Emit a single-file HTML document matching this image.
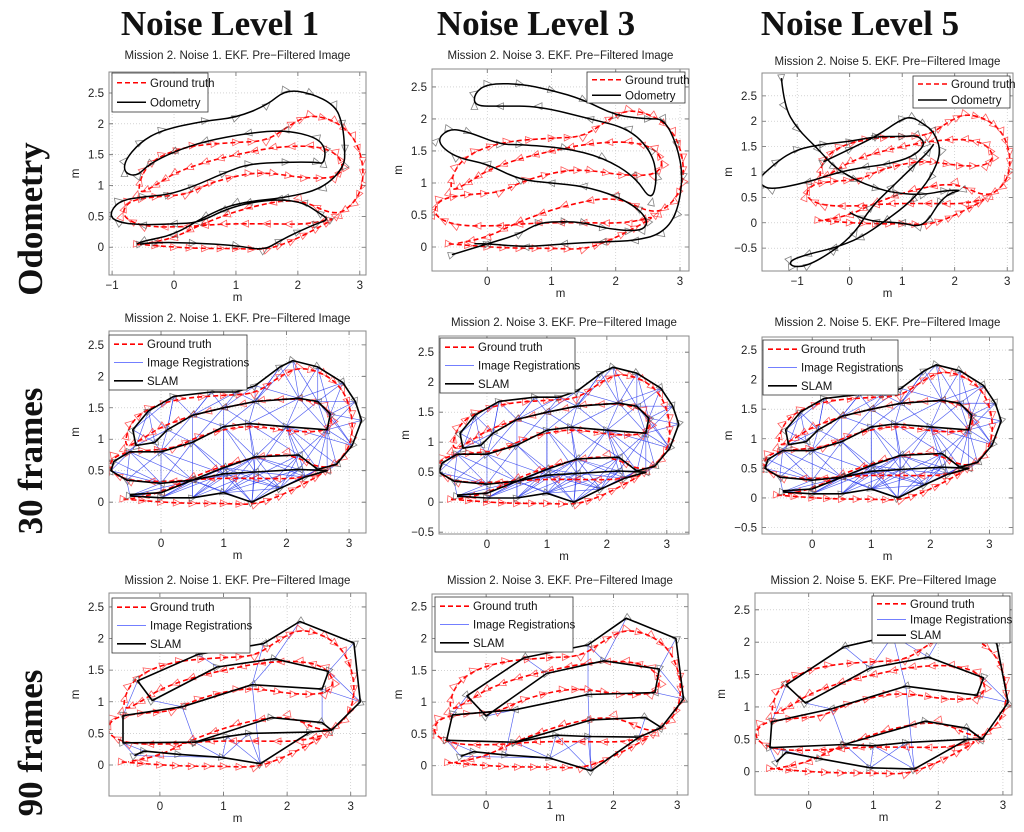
<!DOCTYPE html>
<html><head><meta charset="utf-8"><style>
html,body{margin:0;padding:0;background:#fff;}
svg{display:block;font-family:"Liberation Sans",sans-serif;}
.hdr{font-family:"Liberation Serif",serif;font-weight:bold;font-size:35px;fill:#111;}
</style></head><body>
<svg id="fig" width="1024" height="832" viewBox="0 0 1024 832" xmlns="http://www.w3.org/2000/svg">
<text class="hdr" x="220" y="35" text-anchor="middle">Noise Level 1</text>
<text class="hdr" x="536" y="35" text-anchor="middle">Noise Level 3</text>
<text class="hdr" x="860" y="35" text-anchor="middle">Noise Level 5</text>
<text class="hdr" transform="translate(42,219) rotate(-90)" text-anchor="middle">Odometry</text>
<text class="hdr" transform="translate(42,461) rotate(-90)" text-anchor="middle">30 frames</text>
<text class="hdr" transform="translate(42,743) rotate(-90)" text-anchor="middle">90 frames</text>
</svg>
<script>
// ---------- data ----------
const GT = [[-0.6,0.05],[0,0],[0.5,-0.02],[1,-0.02],[1.5,-0.04],[1.9,0.1],[2.3,0.3],[2.65,0.5],[2.2,0.37],[1.5,0.38],[0.8,0.38],[0.2,0.33],[-0.5,0.33],[-0.85,0.5],[-0.75,0.75],[-0.3,0.82],[0.2,0.85],[0.6,1.05],[1.2,1.2],[1.6,1.2],[2.1,1.12],[2.6,1.12],[2.75,1.3],[2.6,1.55],[2.2,1.65],[1.6,1.62],[1.0,1.5],[0.5,1.38],[0,1.2],[-0.3,1.0],[-0.6,0.85],[-0.5,1.25],[-0.2,1.5],[0.3,1.65],[1,1.7],[1.5,1.72],[1.9,2.0],[2.2,2.15],[2.6,2.05],[2.9,1.8],[3.05,1.4],[3.05,1.0],[2.9,0.7],[2.6,0.5],[2.0,0.8],[1.2,0.65],[0.5,0.4],[0,0.15],[-0.5,0.05]];

const ODO1 = [[[-0.55,0.05],[-0.3,0.08],[0.3,0.07],[1.0,0.03],[1.45,-0.05],[1.7,0.1],[2.0,0.25],[2.3,0.38],[2.5,0.45],[2.35,0.55],[2.1,0.72],[1.7,0.78],[1.2,0.72],[0.8,0.6],[0.4,0.4],[0.0,0.38],[-0.5,0.36],[-0.9,0.4],[-1.05,0.52],[-0.9,0.75],[-0.5,0.82],[-0.1,0.85],[0.3,0.98],[0.8,1.2],[1.2,1.35],[1.8,1.38],[2.3,1.38],[2.42,1.35],[2.45,1.6],[2.3,1.78],[1.8,1.9],[1.2,1.85],[0.5,1.72],[0,1.55],[-0.4,1.35],[-0.6,1.15],[-0.8,1.2],[-0.8,1.4],[-0.55,1.7],[-0.2,1.9],[0.5,2.05],[1.0,2.1],[1.5,2.3],[1.8,2.55],[2.2,2.5],[2.6,2.3],[2.72,2.0],[2.76,1.6],[2.75,1.3],[2.4,0.95],[1.8,0.8],[1.0,0.72],[0.5,0.5],[0,0.2],[-0.5,0.1],[-0.6,0.05]]];

const ODO3 = [[[-0.55,-0.12],[0,0.05],[0.5,0.2],[0.8,0.38],[1.2,0.4],[1.5,0.38],[1.8,0.3],[2.2,0.25],[2.43,0.27],[2.5,0.4],[2.35,0.6],[2.0,0.8],[1.5,0.95],[1.0,1.0],[0.5,1.05],[0,1.3],[-0.5,1.4],[-0.8,1.65],[-0.6,1.85],[-0.3,1.8],[0.2,1.6],[0.5,1.6],[1.2,1.55],[1.8,1.4],[2.3,1.1],[2.56,0.7],[2.65,1.1],[2.55,1.5],[2.2,1.85],[1.6,2.0],[0.8,2.2],[0.2,2.2],[-0.2,2.2],[-0.2,2.4],[0,2.55],[0.5,2.55],[1,2.45],[1.5,2.3],[2,2.05],[2.5,2.0],[2.75,2.0],[2.95,1.6],[3.05,1.1],[2.95,0.5],[2.7,0.2],[2.3,0.1],[1.8,0.08],[1.2,0.05],[0.6,0.0],[0,0.05],[-0.2,0.05]]];

const ODO5 = [
 [[-1.3,2.85],[-1.25,2.3],[-1.0,1.85],[-0.6,1.45],[-0.3,1.1],[0.1,0.85],[0.5,0.68],[0.9,0.58],[1.4,0.55],[1.8,0.63],[2.15,0.65],[1.9,0.58],[1.7,0.4],[1.5,0.05],[1.3,-0.08],[1.0,0.0],[0.5,0.02],[0.2,0.1],[0.0,0.2]],
 [[-1.7,0.9],[-1.4,1.2],[-1.0,1.45],[-0.5,1.55],[0,1.6],[0.5,1.7],[1,1.7],[1.3,1.72],[1.45,1.55],[1.2,1.3],[0.7,1.15],[0.3,1.1],[-0.2,1.0],[-0.8,0.8],[-1.5,0.65],[-1.7,0.75],[-1.7,0.9]],
 [[-0.5,1.2],[0,1.45],[0.5,1.7],[1.0,2.05],[1.2,2.08],[1.4,1.95],[1.6,1.8],[1.75,1.4],[1.55,0.9],[1.2,0.45],[0.7,0.05],[0.2,-0.3],[-0.3,-0.5],[-0.8,-0.62],[-1.15,-0.75],[-1.1,-0.87],[-0.8,-0.85],[-0.3,-0.55],[0.1,-0.2],[0.4,0.3],[0.8,0.7],[1.2,1.1],[1.5,1.4],[1.6,1.55]]];

const SLAM30 = [[-0.5,0.1],[0,0.07],[0.5,0.07],[1.0,0.15],[1.45,0.0],[1.9,0.22],[2.3,0.4],[2.65,0.5],[2.2,0.52],[1.5,0.48],[1.0,0.45],[0.5,0.35],[0,0.3],[-0.55,0.35],[-0.8,0.5],[-0.75,0.65],[-0.5,0.8],[0,0.8],[0.5,0.95],[1.0,1.2],[1.4,1.25],[2,1.2],[2.65,1.15],[2.7,1.4],[2.5,1.6],[2.2,1.65],[1.5,1.6],[1,1.5],[0.5,1.38],[0.1,1.15],[-0.1,0.95],[-0.4,0.9],[-0.45,1.15],[-0.2,1.45],[0.2,1.68],[0.8,1.75],[1.2,1.75],[1.5,1.85],[1.9,2.15],[2.1,2.25],[2.5,2.15],[2.9,1.9],[3.1,1.6],[3.2,1.3],[3.05,0.9],[2.8,0.6],[2.5,0.52],[2.2,0.75],[1.5,0.72],[1.0,0.55],[0.5,0.35],[0,0.15],[-0.5,0.12]];
const PATH30 = [[0,1,2,3,4,5,6,7,8,9,10,11,12,13,14,15,16,17,18,19,20,21,22,23,24,25,26,27,28,29,30,31,32,33,34,35,36,37,38,39,40,41,42,43,44,45,46,47,48,49,50,51,52]];
const REGS30 = [[2,10],[2,49],[3,9],[3,48],[3,10],[4,9],[4,10],[4,48],[4,49],[5,9],[5,48],[5,8],[6,8],[6,47],[3,49],[4,47],[5,47],[6,46],[10,48],[11,48],[9,49],[8,48],[1,11],[1,50],[2,11],[0,12],[0,51],[12,51],[13,52],[1,12],[12,17],[11,18],[10,18],[10,19],[9,19],[9,20],[9,21],[8,21],[48,20],[47,21],[13,17],[14,16],[12,16],[11,17],[49,18],[48,19],[7,22],[46,22],[47,22],[17,29],[18,28],[18,29],[19,27],[19,28],[20,26],[20,27],[21,26],[21,25],[22,24],[22,25],[16,31],[17,30],[15,31],[30,33],[31,32],[29,34],[28,34],[28,35],[27,35],[27,36],[26,36],[26,37],[25,38],[25,37],[24,39],[24,40],[23,40],[23,41],[23,42],[22,42],[22,43],[21,24],[44,22],[45,22],[45,7],[44,23],[41,24],[26,38],[25,39],[29,33],[32,34],[3,5],[2,9],[5,46],[6,7],[8,46],
 [1,10],[2,48],[3,47],[3,8],[4,8],[4,46],[5,10],[5,49],[6,48],[6,9],[2,50],[3,50],[4,50],[9,50],[10,50],[1,49],[0,11],[12,50],[13,12],[14,12],[15,12],[13,16],[11,16],[12,18],[10,17],[49,19],[48,21],[47,20],[46,21],[8,22],[45,21],[44,21],[44,24],[43,23],[42,24],[41,25],[40,25],[39,26],[38,26],[37,27],[36,28],[35,28],[34,29],[33,31],[32,30],[31,29],[20,25],[19,26],[18,27],[17,28]];

const SLAM90A = [[-0.4,0.15],[-0.25,0.22],[0.29,0.17],[0.98,0.12],[1.58,0.02],[2.36,0.52],[2.7,0.55],[2.55,0.67],[1.75,0.75],[0.55,0.36],[-0.58,0.35],[-0.58,0.78],[0.35,0.92],[1.45,1.27],[2.55,1.2],[2.65,1.48],[1.8,1.68],[0.9,1.55],[0.6,1.75],[-0.35,1.33],[-0.12,1.02],[1.63,1.92],[2.2,2.27],[3.05,1.93],[3.15,1.0],[1.4,0.5],[1.05,0.45]];
const SLAM90B = [[-0.4,0.15],[-0.2,0.22],[0.3,0.17],[1.0,0.12],[1.65,-0.08],[2.4,0.45],[2.75,0.6],[2.5,0.76],[1.65,0.72],[0.45,0.37],[-0.62,0.4],[-0.53,0.8],[0.45,0.88],[1.6,1.12],[2.65,1.15],[2.72,1.52],[1.85,1.65],[0.95,1.45],[0.6,1.7],[-0.3,1.1],[0.0,0.78],[1.6,1.9],[2.2,2.32],[2.98,2.0],[3.1,1.05],[1.6,0.46],[1.1,0.48]];
const SLAM90C = [[-0.5,0.15],[-0.35,0.3],[0.17,0.2],[0.95,0.06],[1.63,0.04],[2.45,0.5],[2.68,0.5],[2.45,0.67],[1.8,0.78],[0.55,0.42],[-0.6,0.37],[-0.57,0.77],[0.35,0.97],[1.5,1.32],[2.6,1.18],[2.7,1.45],[1.85,1.77],[0.95,1.6],[0.55,1.93],[-0.35,1.34],[-0.05,1.06],[1.3,2.1],[2.1,2.2],[2.9,2.0],[3.08,1.07],[1.5,0.45],[1.0,0.4]];
const PATH90 = [[0,1,2,3,4,5,6,24,23,22,21,18,19,20,17,16,15,14,13,12,11,10,9,8,7,6],[9,26,25,5]];
const REGS90A = [[10,0],[11,19],[20,12],[12,9],[18,17],[13,21],[13,16],[13,4],[22,16],[15,24],[14,24],[14,7],[23,15],[0,3],[3,25],[3,26],[26,4],[25,4],[9,3],[10,1]];
const REGS90B = [[10,0],[11,19],[20,12],[12,2],[18,17],[21,13],[21,16],[13,4],[22,16],[15,24],[14,24],[7,5],[23,15],[0,3],[3,25],[3,26],[25,4],[26,4],[9,3],[10,1]];
const REGS90C = [[10,0],[11,19],[20,12],[12,9],[18,17],[21,17],[21,13],[13,4],[22,16],[15,24],[14,24],[7,5],[23,24],[3,26],[3,25],[25,4],[26,4],[9,3],[10,2],[16,21]];

const XT_A = [-1,0,1,2,3];
const XT_B = [0,1,2,3];
const YT_A = [0,0.5,1,1.5,2,2.5];
const YT_B = [-0.5,0,0.5,1,1.5,2,2.5];

// ---------- layout (not data) ----------
const PANELS = [
 {id:'odometry-noise-1',x0:109,x1:366,y0:72,y1:275,xmin:-1.05,xmax:3.1,ymin:-0.45,ymax:2.84,xt:XT_A,yt:YT_A,n:1,ty:59,leg:[112,73,96,39],kind:'odo',segs:ODO1},
 {id:'odometry-noise-3',x0:432,x1:689,y0:69,y1:271,xmin:-0.86,xmax:3.14,ymin:-0.375,ymax:2.78,xt:XT_B,yt:YT_A,n:3,ty:59,leg:[587,72,98,31],kind:'odo',segs:ODO3},
 {id:'odometry-noise-5',x0:762,x1:1013,y0:73,y1:271,xmin:-1.67,xmax:3.11,ymin:-0.95,ymax:2.95,xt:XT_A,yt:YT_B,n:5,ty:65,leg:[913,76,97,32],kind:'odo',segs:ODO5},
 {id:'slam30-noise-1',x0:109,x1:366,y0:331,y1:533,xmin:-0.83,xmax:3.27,ymin:-0.49,ymax:2.72,xt:XT_B,yt:YT_A,n:1,ty:322,leg:[109,335,138,55],kind:'slam',nodes:SLAM30,paths:PATH30,regs:REGS30},
 {id:'slam30-noise-3',x0:439,x1:689,y0:336,y1:534,xmin:-0.8,xmax:3.37,ymin:-0.53,ymax:2.77,xt:XT_B,yt:YT_B,n:3,ty:326,leg:[440,338,135,55],kind:'slam',nodes:SLAM30,paths:PATH30,regs:REGS30},
 {id:'slam30-noise-5',x0:762,x1:1013,y0:337,y1:534,xmin:-0.85,xmax:3.4,ymin:-0.61,ymax:2.72,xt:XT_B,yt:YT_B,n:5,ty:326,leg:[763,340,135,55],kind:'slam',nodes:SLAM30,paths:PATH30,regs:REGS30},
 {id:'slam90-noise-1',x0:109,x1:366,y0:593,y1:796,xmin:-0.8,xmax:3.24,ymin:-0.49,ymax:2.72,xt:XT_B,yt:YT_A,n:1,ty:584,leg:[112,598,138,55],kind:'slam',nodes:SLAM90A,paths:PATH90,regs:REGS90A},
 {id:'slam90-noise-3',x0:432,x1:688,y0:594,y1:795,xmin:-0.85,xmax:3.17,ymin:-0.46,ymax:2.7,xt:XT_B,yt:YT_A,n:3,ty:584,leg:[435,597,138,55],kind:'slam',nodes:SLAM90B,paths:PATH90,regs:REGS90B},
 {id:'slam90-noise-5',x0:755,x1:1012,y0:593,y1:795,xmin:-0.83,xmax:3.14,ymin:-0.36,ymax:2.76,xt:XT_B,yt:YT_A,n:5,ty:584,leg:[872,596,138,47],kind:'slam',nodes:SLAM90C,paths:PATH90,regs:REGS90C}
];

const NS='http://www.w3.org/2000/svg';
const svg=document.getElementById('fig');
function mk(tag,parent){const e=document.createElementNS(NS,tag);parent.appendChild(e);return e;}
function fmt(v){return v<0?'\u2212'+Math.abs(v):String(v);}
function smooth(pts){
  let d='M'+pts[0][0].toFixed(1)+','+pts[0][1].toFixed(1);
  for(let i=1;i<pts.length-1;i++){
    const mx=(pts[i][0]+pts[i+1][0])/2,my=(pts[i][1]+pts[i+1][1])/2;
    d+=' Q'+pts[i][0].toFixed(1)+','+pts[i][1].toFixed(1)+' '+mx.toFixed(1)+','+my.toFixed(1);
  }
  const l=pts[pts.length-1];d+=' L'+l[0].toFixed(1)+','+l[1].toFixed(1);return d;
}
function tri(g,p,q,color){
  const a=Math.atan2(q[1]-p[1],q[0]-p[0]);const s=4.2;
  const pts=[[s,0],[-s*0.8,s*0.8],[-s*0.8,-s*0.8]].map(([u,v])=>[p[0]+u*Math.cos(a)-v*Math.sin(a),p[1]+u*Math.sin(a)+v*Math.cos(a)]);
  const t=mk('polygon',g);
  
  
  t.setAttribute('points',pts.map(z=>z[0].toFixed(1)+','+z[1].toFixed(1)).join(' '));
  t.setAttribute('fill','none');t.setAttribute('stroke',color);t.setAttribute('stroke-width','0.8');
}

PANELS.forEach((P,pi)=>{
  const sx=v=>P.x0+(v-P.xmin)/(P.xmax-P.xmin)*(P.x1-P.x0);
  const sy=v=>P.y1-(v-P.ymin)/(P.ymax-P.ymin)*(P.y1-P.y0);
  const g=mk('g',svg);
  
  
  const cp=mk('clipPath',g);cp.setAttribute('id','clip'+pi);
  const cr=mk('rect',cp);cr.setAttribute('x',P.x0);cr.setAttribute('y',P.y0);cr.setAttribute('width',P.x1-P.x0);cr.setAttribute('height',P.y1-P.y0);
  const tt=mk('text',g);
  
  
  tt.setAttribute('x',(P.x0+P.x1)/2);tt.setAttribute('y',P.ty);tt.setAttribute('text-anchor','middle');tt.setAttribute('font-size','11.5');tt.setAttribute('fill','#222');
  tt.textContent='Mission 2. Noise '+P.n+'. EKF. Pre\u2212Filtered Image';
  const grid=mk('g',g);
  
  
  P.xt.forEach(v=>{
    const X=sx(v);
    const l=mk('line',grid);l.setAttribute('x1',X);l.setAttribute('x2',X);l.setAttribute('y1',P.y0);l.setAttribute('y2',P.y1);l.setAttribute('stroke','#bbb');l.setAttribute('stroke-width','0.6');l.setAttribute('stroke-dasharray','1,2');
    const tk=mk('path',grid);tk.setAttribute('d','M'+X+','+P.y1+'v-4M'+X+','+P.y0+'v4');tk.setAttribute('stroke','#666');tk.setAttribute('stroke-width','0.8');
    const t=mk('text',g);
    
    
    t.setAttribute('x',X);t.setAttribute('y',P.y1+14);t.setAttribute('text-anchor','middle');t.setAttribute('font-size','11.5');t.setAttribute('fill','#222');t.textContent=fmt(v);
  });
  P.yt.forEach(v=>{
    const Y=sy(v);
    const l=mk('line',grid);l.setAttribute('y1',Y);l.setAttribute('y2',Y);l.setAttribute('x1',P.x0);l.setAttribute('x2',P.x1);l.setAttribute('stroke','#bbb');l.setAttribute('stroke-width','0.6');l.setAttribute('stroke-dasharray','1,2');
    const tk=mk('path',grid);tk.setAttribute('d','M'+P.x0+','+Y+'h4M'+P.x1+','+Y+'h-4');tk.setAttribute('stroke','#666');tk.setAttribute('stroke-width','0.8');
    const t=mk('text',g);
    
    
    t.setAttribute('x',P.x0-5);t.setAttribute('y',Y+4);t.setAttribute('text-anchor','end');t.setAttribute('font-size','11.5');t.setAttribute('fill','#222');t.textContent=fmt(v);
  });
  const xl=mk('text',g);
  
  
  xl.setAttribute('x',(P.x0+P.x1)/2);xl.setAttribute('y',P.y1+26);xl.setAttribute('text-anchor','middle');xl.setAttribute('font-size','11.5');xl.setAttribute('fill','#222');xl.textContent='m';
  const yl=mk('text',g);
  
  
  const yx=P.x0-30,yy=(P.y0+P.y1)/2;
  yl.setAttribute('transform','translate('+yx+','+yy+') rotate(-90)');yl.setAttribute('text-anchor','middle');yl.setAttribute('font-size','11.5');yl.setAttribute('fill','#222');yl.textContent='m';
  const pl=mk('g',g);
  
  
  pl.setAttribute('clip-path','url(#clip'+pi+')');
  const gtPx=GT.map(p=>[sx(p[0]),sy(p[1])]);
  if(P.kind==='slam'){
    const nodesPx=P.nodes.map(p=>[sx(p[0]),sy(p[1])]);
    const rg=mk('g',pl);
    
    
    P.regs.forEach(([a,b])=>{
      const l=mk('line',rg);
      
      
      l.setAttribute('x1',nodesPx[a][0]);l.setAttribute('y1',nodesPx[a][1]);l.setAttribute('x2',nodesPx[b][0]);l.setAttribute('y2',nodesPx[b][1]);
      l.setAttribute('stroke','#2233ee');l.setAttribute('stroke-width','0.65');l.setAttribute('stroke-opacity','0.8');
    });
  }
  const gp=mk('path',pl);
  
  
  gp.setAttribute('d',smooth(gtPx));gp.setAttribute('fill','none');gp.setAttribute('stroke','#ff0000');gp.setAttribute('stroke-width','1.6');gp.setAttribute('stroke-dasharray','5,3');
  for(let i=0;i<gtPx.length-1;i++){tri(pl,gtPx[i],gtPx[i+1],'rgba(255,40,40,0.75)');
    const m=[(gtPx[i][0]+gtPx[i+1][0])/2,(gtPx[i][1]+gtPx[i+1][1])/2];tri(pl,m,gtPx[i+1],'rgba(255,40,40,0.75)');}
  if(P.kind==='odo'){
    P.segs.forEach(seg=>{
      const px=seg.map(p=>[sx(p[0]),sy(p[1])]);
      for(let i=0;i<px.length-1;i++)tri(pl,px[i],px[i+1],'rgba(90,90,90,0.75)');
      const op=mk('path',pl);
      
      
      op.setAttribute('d',smooth(px));op.setAttribute('fill','none');op.setAttribute('stroke','#000');op.setAttribute('stroke-width','1.5');
    });
  } else {
    const nodesPx=P.nodes.map(p=>[sx(p[0]),sy(p[1])]);
    P.paths.forEach(idx=>{
      const px=idx.map(i=>nodesPx[i]);
      for(let i=0;i<px.length-1;i++)tri(pl,px[i],px[i+1],'rgba(90,90,90,0.75)');
      const sp=mk('polyline',pl);
      
      
      sp.setAttribute('points',px.map(z=>z[0].toFixed(1)+','+z[1].toFixed(1)).join(' '));sp.setAttribute('fill','none');sp.setAttribute('stroke','#000');sp.setAttribute('stroke-width','1.6');sp.setAttribute('stroke-linejoin','round');
    });
  }
  const bx=mk('rect',g);
  
  
  bx.setAttribute('x',P.x0);bx.setAttribute('y',P.y0);bx.setAttribute('width',P.x1-P.x0);bx.setAttribute('height',P.y1-P.y0);bx.setAttribute('fill','none');bx.setAttribute('stroke','#888');bx.setAttribute('stroke-width','1');
  const [lx,ly,lw,lh]=P.leg;
  const lg=mk('g',g);
  
  
  const lr=mk('rect',lg);lr.setAttribute('x',lx);lr.setAttribute('y',ly);lr.setAttribute('width',lw);lr.setAttribute('height',lh);lr.setAttribute('fill','#fff');lr.setAttribute('stroke','#333');lr.setAttribute('stroke-width','0.8');
  const entries=P.kind==='odo'?[['Ground truth','#ff0000','5,3',1.6],['Odometry','#000','',1.5]]:[['Ground truth','#ff0000','5,3',1.6],['Image Registrations','#4455ff','',0.8],['SLAM','#000','',1.6]];
  const rh=lh/entries.length;
  entries.forEach((e,i)=>{
    const cy=ly+rh*(i+0.5);
    const ent=mk('g',lg);
    
    
    const l=mk('line',ent);l.setAttribute('x1',lx+5);l.setAttribute('x2',lx+34);l.setAttribute('y1',cy);l.setAttribute('y2',cy);l.setAttribute('stroke',e[1]);l.setAttribute('stroke-width',e[3]);if(e[2])l.setAttribute('stroke-dasharray',e[2]);
    const t=mk('text',ent);t.setAttribute('x',lx+38);t.setAttribute('y',cy+4);t.setAttribute('font-size','11.5');t.setAttribute('fill','#111');t.textContent=e[0];
  });
});
</script>
</body></html>
